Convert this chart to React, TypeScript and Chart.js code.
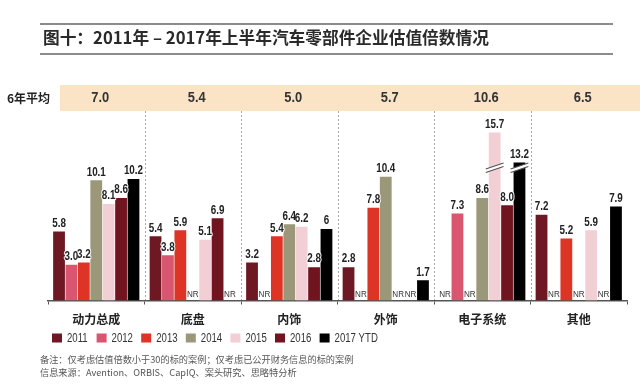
import React, { useEffect, useRef } from "react";
import { Chart, registerables } from "chart.js";

Chart.register(...registerables);

const categories = ["动力总成", "底盘", "内饰", "外饰", "电子系统", "其他"];
const seriesNames = ["2011", "2012", "2013", "2014", "2015", "2016", "2017 YTD"];
const seriesColors = ["#6e1824", "#d8566f", "#dd3425", "#9b9779", "#f2cfd5", "#701520", "#000000"];

// null = "NR"
const v2011 = ["5.8", "5.4", "3.2", "2.8", null, "7.2"];
const v2012 = ["3.0", "3.8", null, null, "7.3", null];
const v2013 = ["3.2", "5.9", "5.4", "7.8", null, "5.2"];
const v2014 = ["10.1", null, "6.4", "10.4", "8.6", null];
const v2015 = ["8.1", "5.1", "6.2", null, "15.7", "5.9"];
const v2016 = ["8.6", "6.9", "2.8", null, "8.0", null];
const v2017 = ["10.2", null, "6", "1.7", "13.2", "7.9"];
const seriesValues = [v2011, v2012, v2013, v2014, v2015, v2016, v2017];

const sixYearLabel = "6年平均";
const sixYearAvg = ["7.0", "5.4", "5.0", "5.7", "10.6", "6.5"];

// bars drawn shorter with an axis-break mark
const brokenBars = [
  { series: "2015", category: "电子系统", drawnAs: 14.1 },
  { series: "2017 YTD", category: "电子系统", drawnAs: 11.6 },
];
const breakValue = 11.0;

const titleText = "图十：2011年 – 2017年上半年汽车零部件企业估值倍数情况";
const noteLines = [
  "备注：仅考虑估值倍数小于30的标的案例；仅考虑已公开财务信息的标的案例",
  "信息来源：Avention、ORBIS、CapIQ、案头研究、思略特分析",
];

const SANS = "'Liberation Sans', Arial, sans-serif";
const CJK = "'Noto Sans CJK SC', sans-serif";

function drawnValue(si: number, ci: number): number | null {
  const raw = seriesValues[si][ci];
  if (raw === null) return null;
  const b = brokenBars.find((x) => x.series === seriesNames[si] && x.category === categories[ci]);
  return b ? b.drawnAs : parseFloat(raw);
}

// draw text horizontally condensed (narrow face look)
function narrowText(ctx: any, t: string, x: number, y: number, sx: number, stroke: boolean) {
  ctx.save();
  ctx.translate(x, y);
  ctx.scale(sx, 1);
  if (stroke) ctx.strokeText(t, 0, 0);
  else ctx.fillText(t, 0, 0);
  ctx.restore();
}

const decorPlugin = {
  id: "decor",
  beforeDraw(chart: any) {
    const { ctx, chartArea, scales } = chart;
    const xs = scales.x;
    ctx.save();
    // header band
    ctx.fillStyle = "#fbe3c6";
    ctx.fillRect(60, 85, 580, 26);
    ctx.fillStyle = "#222";
    ctx.textBaseline = "middle";
    ctx.textAlign = "left";
    ctx.font = "bold 12px " + CJK;
    ctx.fillText(sixYearLabel, 7, 98);
    ctx.textAlign = "center";
    ctx.font = "bold 14px " + SANS;
    ctx.fillStyle = "#333";
    sixYearAvg.forEach((t, i) => {
      narrowText(ctx, t, xs.getPixelForValue(i) + 4, 98, 0.92, false);
    });
    // dotted dividers
    ctx.strokeStyle = "#a8a8a8";
    ctx.lineWidth = 1;
    ctx.setLineDash([2, 2]);
    for (let i = 0; i < categories.length - 1; i++) {
      const x = Math.round((xs.getPixelForValue(i) + xs.getPixelForValue(i + 1)) / 2) + 0.5;
      ctx.beginPath();
      ctx.moveTo(x, 111);
      ctx.lineTo(x, chartArea.bottom);
      ctx.stroke();
    }
    ctx.restore();
  },
  afterDatasetsDraw(chart: any) {
    const { ctx, scales } = chart;
    const ys = scales.y;
    const base = ys.getPixelForValue(0);
    ctx.save();
    // break marks
    brokenBars.forEach((b) => {
      const si = seriesNames.indexOf(b.series);
      const ci = categories.indexOf(b.category);
      const el: any = chart.getDatasetMeta(si).data[ci];
      if (!el) return;
      const half = el.width / 2 + 3;
      const y = ys.getPixelForValue(breakValue);
      const x0 = el.x - half;
      const x1 = el.x + half;
      const rise = 6;
      const gap = 3.5;
      ctx.fillStyle = "#ffffff";
      ctx.beginPath();
      ctx.moveTo(x0, y + rise / 2);
      ctx.lineTo(x1, y - rise / 2);
      ctx.lineTo(x1, y - rise / 2 - gap);
      ctx.lineTo(x0, y + rise / 2 - gap);
      ctx.closePath();
      ctx.fill();
      ctx.strokeStyle = "#555";
      ctx.lineWidth = 1.2;
      ctx.beginPath();
      ctx.moveTo(x0, y + rise / 2);
      ctx.lineTo(x1, y - rise / 2);
      ctx.moveTo(x0, y + rise / 2 - gap);
      ctx.lineTo(x1, y - rise / 2 - gap);
      ctx.stroke();
    });
    // value labels: halos first, then text
    const items: { raw: string | null; x: number; y: number }[] = [];
    seriesValues.forEach((vals, si) => {
      const meta = chart.getDatasetMeta(si);
      vals.forEach((raw, ci) => {
        const el: any = meta.data[ci];
        if (!el) return;
        items.push({ raw, x: el.x, y: el.y });
      });
    });
    ctx.textAlign = "center";
    ctx.textBaseline = "bottom";
    ctx.font = "bold 12px " + SANS;
    ctx.lineWidth = 2.5;
    ctx.lineJoin = "round";
    ctx.strokeStyle = "rgba(255,255,255,0.85)";
    items.forEach((it) => {
      if (it.raw !== null) narrowText(ctx, it.raw, it.x, it.y - 2, 0.82, true);
    });
    ctx.fillStyle = "#222";
    items.forEach((it) => {
      if (it.raw !== null) narrowText(ctx, it.raw, it.x, it.y - 2, 0.82, false);
    });
    ctx.font = "9px " + SANS;
    ctx.fillStyle = "#333";
    items.forEach((it) => {
      if (it.raw === null) narrowText(ctx, "NR", it.x, base - 1, 0.9, false);
    });
    ctx.restore();
  },
  afterDraw(chart: any) {
    // legend row
    const { ctx } = chart;
    ctx.save();
    ctx.font = "12px " + SANS;
    ctx.textAlign = "left";
    ctx.textBaseline = "middle";
    chart.data.datasets.forEach((ds: any, i: number) => {
      const x = 52 + i * 44.6;
      ctx.fillStyle = ds.backgroundColor;
      ctx.fillRect(x, 333.5, 10, 9);
      ctx.fillStyle = "#333";
      narrowText(ctx, ds.label, x + 15, 338.5, 0.8, false);
    });
    ctx.restore();
  },
};

function ChartCanvas() {
  const ref = useRef<HTMLCanvasElement>(null);
  useEffect(() => {
    if (!ref.current) return;
    const chart = new Chart(ref.current, {
      type: "bar",
      data: {
        labels: categories,
        datasets: seriesNames.map((name, si) => ({
          label: name,
          data: categories.map((_, ci) => drawnValue(si, ci)),
          backgroundColor: seriesColors[si],
          borderWidth: 0,
          categoryPercentage: 0.9,
          barPercentage: 0.95,
        })),
      },
      options: {
        responsive: false,
        animation: false,
        layout: { padding: { left: 48, right: 13, top: 110, bottom: 52.5 } },
        scales: {
          x: {
            grid: { display: true, drawOnChartArea: false, tickLength: 4, color: "#555", offset: true },
            border: { display: true, color: "#555", width: 1.5 },
            ticks: { color: "#222", padding: 7.3, font: { family: CJK, size: 12, weight: "bold" } },
          },
          y: { display: false, min: 0, max: 16 },
        },
        plugins: {
          legend: { display: false },
          tooltip: { enabled: false },
        },
      },
      plugins: [decorPlugin],
    });
    return () => chart.destroy();
  }, []);
  return <canvas ref={ref} width={640} height={386} style={{ position: "absolute", left: 0, top: 0 }} />;
}

export default function App() {
  return (
    <div style={{ position: "absolute", left: 0, top: 0, width: 640, height: 386, background: "#fff", overflow: "hidden" }}>
      <ChartCanvas />
      <div style={{ position: "absolute", left: 40, top: 23, width: 573, height: 28, borderTop: "2px solid #8c8c8c", borderBottom: "2px solid #8c8c8c" }} />
      <div
        style={{
          position: "absolute",
          left: 43,
          top: 26,
          fontFamily: CJK,
          fontWeight: "bold",
          fontSize: 16.7,
          lineHeight: "22px",
          color: "#2a2a2a",
          whiteSpace: "nowrap",
        }}
      >
        {titleText}
      </div>
      {noteLines.map((t, i) => (
        <div
          key={i}
          style={{
            position: "absolute",
            left: 40,
            top: 352.5 + i * 13,
            fontFamily: CJK,
            fontSize: 9.2,
            lineHeight: "13px",
            color: "#555",
            whiteSpace: "nowrap",
          }}
        >
          {t}
        </div>
      ))}
    </div>
  );
}
